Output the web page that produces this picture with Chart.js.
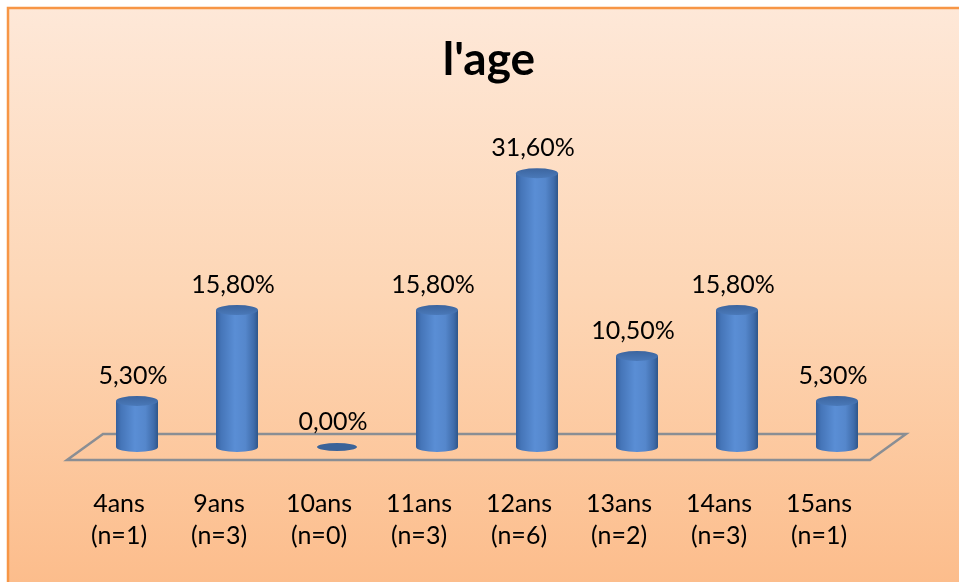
<!DOCTYPE html>
<html>
<head>
<meta charset="utf-8">
<title>l'age</title>
<script src="https://cdn.jsdelivr.net/npm/chart.js@4.4.1/dist/chart.umd.min.js"></script>
<style>
  html, body { margin: 0; padding: 0; background: #ffffff; }
  #wrap { width: 959px; height: 582px; position: relative; }
  canvas { display: block; }
</style>
</head>
<body>
<div id="wrap"><canvas id="c" width="959" height="582"></canvas></div>
<script>
// Age groups, head counts and share of the sample (%)
const ages = ['4ans', '9ans', '10ans', '11ans', '12ans', '13ans', '14ans', '15ans'];
const counts = [1, 3, 0, 3, 6, 2, 3, 1];
const shares = [5.30, 15.80, 0.00, 15.80, 31.60, 10.50, 15.80, 5.30];

const labels = ages.map((a, i) => [a, '(n=' + counts[i] + ')']);

const FONT = 'Lato, "Open Sans", sans-serif';
// depth shift of the floor (back edge relative to front edge)
const DEPTH_X = 36, DEPTH_Y = 26;

// Orange panel behind the chart
const panel = {
  id: 'panel',
  beforeDraw(chart) {
    const ctx = chart.ctx;
    const w = chart.width, h = chart.height;
    ctx.save();
    ctx.fillStyle = '#ffffff';
    ctx.fillRect(0, 0, w, h);
    const g = ctx.createLinearGradient(0, 8, 0, h);
    g.addColorStop(0, '#fee8d8');
    g.addColorStop(0.5, '#fdd6b5');
    g.addColorStop(1, '#fcbd8c');
    ctx.fillStyle = g;
    ctx.fillRect(8, 8, w, h);
    ctx.strokeStyle = '#f79646';
    ctx.lineWidth = 2.5;
    ctx.strokeRect(8, 8, w + 10, h + 10);
    ctx.restore();
  }
};

// Centre the title over the whole panel rather than the plot area
const titleCentre = {
  id: 'titleCentre',
  afterLayout(chart) {
    const tb = chart.titleBlock;
    if (tb) { tb.left += 20; tb.right += 20; }
  }
};

// 3D floor and cylinder columns drawn from the bar elements
const cylinders = {
  id: 'cylinders',
  beforeDatasetsDraw(chart) {
    const ctx = chart.ctx;
    const a = chart.chartArea;
    const y0 = chart.scales.y.getPixelForValue(0);
    ctx.save();
    ctx.strokeStyle = '#8a8e94';
    ctx.lineWidth = 2.5;
    ctx.beginPath();
    ctx.moveTo(a.left - 2, y0);
    ctx.lineTo(a.right + 1, y0);
    ctx.lineTo(a.right + 1 + DEPTH_X, y0 - DEPTH_Y);
    ctx.lineTo(a.left - 2 + DEPTH_X, y0 - DEPTH_Y);
    ctx.closePath();
    ctx.stroke();
    ctx.restore();
  },
  afterDatasetsDraw(chart) {
    const ctx = chart.ctx;
    const meta = chart.getDatasetMeta(0);
    const ds = chart.data.datasets[0];
    const dx = DEPTH_X / 2, dy = DEPTH_Y / 2;
    const rx = 21, ry = 5;
    ctx.save();
    meta.data.forEach((el, i) => {
      const cx = el.x + dx;
      const top = el.y - dy;
      const base = el.base - dy;
      if (base - top > 0.5) {
        const g = ctx.createLinearGradient(cx - rx, 0, cx + rx, 0);
        g.addColorStop(0, '#355f9c');
        g.addColorStop(0.12, '#4575b8');
        g.addColorStop(0.45, '#5a8ed5');
        g.addColorStop(0.7, '#5587cc');
        g.addColorStop(0.9, '#3f6cab');
        g.addColorStop(1, '#2f5689');
        ctx.fillStyle = g;
        ctx.beginPath();
        ctx.moveTo(cx - rx, top);
        ctx.lineTo(cx - rx, base);
        ctx.ellipse(cx, base, rx, ry, 0, Math.PI, 0, true);
        ctx.lineTo(cx + rx, top);
        ctx.closePath();
        ctx.fill();
        const tg = ctx.createLinearGradient(0, top - ry, 0, top + ry);
        tg.addColorStop(0, '#3c659f');
        tg.addColorStop(1, '#4a79b9');
        ctx.fillStyle = tg;
        ctx.beginPath();
        ctx.ellipse(cx, top, rx, ry, 0, 0, Math.PI * 2);
        ctx.fill();
      } else {
        ctx.fillStyle = '#3b6399';
        ctx.beginPath();
        ctx.ellipse(cx, base, rx - 1, ry - 1, 0, 0, Math.PI * 2);
        ctx.fill();
      }
      // value label
      const txt = ds.data[i].toFixed(2).replace('.', ',') + '%';
      ctx.fillStyle = '#000000';
      ctx.font = '25px ' + FONT;
      ctx.textAlign = 'center';
      ctx.textBaseline = 'middle';
      ctx.fillText(txt, cx - 4, top - 25);
    });
    ctx.restore();
  }
};

new Chart(document.getElementById('c'), {
  type: 'bar',
  data: {
    labels: labels,
    datasets: [{
      label: "l'age",
      data: shares,
      backgroundColor: 'rgba(0,0,0,0)',
      borderWidth: 0
    }]
  },
  options: {
    responsive: false,
    animation: false,
    devicePixelRatio: 1,
    layout: { padding: { left: 69, right: 90, top: 0, bottom: 2 } },
    plugins: {
      legend: { display: false },
      tooltip: { enabled: false },
      title: {
        display: true,
        text: "l'age",
        color: '#000000',
        font: { family: FONT, size: 46, weight: 'bold', lineHeight: 1.2 },
        padding: { top: 33, bottom: 27 }
      }
    },
    scales: {
      x: {
        grid: { display: false, drawTicks: false },
        border: { display: false },
        ticks: {
          color: '#000000',
          font: { family: FONT, size: 25, lineHeight: 1.28 },
          padding: 28,
          maxRotation: 0
        }
      },
      y: {
        display: false,
        min: 0,
        max: 39.8
      }
    }
  },
  plugins: [panel, titleCentre, cylinders]
});
</script>
</body>
</html>
